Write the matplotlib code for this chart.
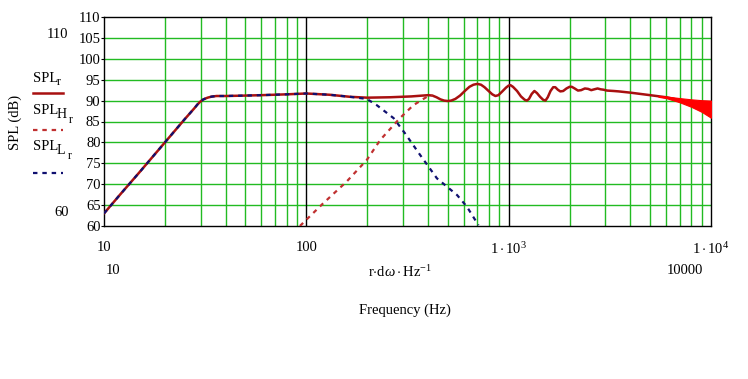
import matplotlib
matplotlib.use("Agg")
import matplotlib.pyplot as plt

plt.rcParams['font.family'] = ['Liberation Serif', 'DejaVu Serif']
plt.rcParams['mathtext.fontset'] = 'custom'
plt.rcParams['mathtext.rm'] = 'Liberation Serif'
plt.rcParams['mathtext.it'] = 'Liberation Serif:italic'

# ---- data ----
freq_total = [10, 12, 15, 20, 25, 28, 29, 30, 31, 32.5, 34, 36, 40, 50, 60, 80, 100, 130,
              165, 200, 260, 330, 400, 420, 440, 460, 480, 500, 520, 545, 575, 610, 640,
              670, 700, 730, 760, 800, 830, 860, 890, 930, 970, 1000, 1020, 1050, 1100,
              1150, 1200, 1230, 1260, 1300, 1340, 1380, 1430, 1480, 1520, 1560, 1610,
              1660, 1700, 1750, 1800, 1860, 1930, 2000, 2050, 2120, 2200, 2280, 2380,
              2470, 2560, 2650, 2750, 2850, 2950, 3060, 3300, 3500, 4000, 5000, 6000,
              7000, 8000, 9000, 10000]
spl_total = [63.0, 67.5, 72.9, 80.0, 85.5, 88.2, 89.1, 89.8, 90.3, 90.7, 90.95, 91.1,
             91.1, 91.2, 91.3, 91.5, 91.7, 91.4, 90.9, 90.7, 90.8, 91.0, 91.3, 91.2,
             90.8, 90.3, 90.0, 89.9, 90.0, 90.4, 91.2, 92.4, 93.3, 93.8, 94.0, 93.8,
             93.2, 92.2, 91.5, 91.1, 91.3, 92.2, 93.1, 93.6, 93.7, 93.3, 92.3, 91.0,
             90.2, 90.0, 90.4, 91.6, 92.3, 91.8, 90.9, 90.2, 90.0, 90.8, 92.3, 93.2,
             93.2, 92.6, 92.2, 92.3, 92.9, 93.3, 93.3, 92.9, 92.4, 92.5, 92.9, 92.8,
             92.5, 92.7, 92.9, 92.7, 92.6, 92.4, 92.3, 92.2, 91.9, 91.3, 90.8, 90.1,
             89.4, 88.7, 88.0]

# high-frequency ripple band at the end of the total response
freq_band = [5500, 6000, 7000, 8000, 9000, 10000]
band_hi = [91.1, 91.0, 90.6, 90.3, 90.1, 90.0]
band_lo = [90.9, 90.6, 89.6, 88.5, 87.3, 85.9]

freq_high = [93, 100, 121, 158, 199, 232, 290, 338, 394, 420]
spl_high = [60.0, 61.5, 65.4, 70.6, 75.8, 80.6, 85.8, 88.9, 90.9, 91.2]

freq_low = [10, 12, 15, 20, 25, 28, 29, 30, 31, 32.5, 34, 36, 40, 50, 60, 80, 100, 130,
            165, 199, 223, 270, 307, 365, 442, 556, 622, 709]
spl_low = [63.0, 67.5, 72.9, 80.0, 85.5, 88.2, 89.1, 89.8, 90.3, 90.7, 90.95, 91.1,
           91.1, 91.2, 91.3, 91.5, 91.7, 91.4, 90.9, 90.4, 88.9, 85.8, 82.2, 77.0,
           71.4, 67.4, 64.6, 60.2]

y_ticks = [60, 65, 70, 75, 80, 85, 90, 95, 100, 105, 110]
x_ticks = [10, 100, 1000, 10000]
x_tick_labels = ['10', '100', r'$1\cdot10^{3}$', r'$1\cdot10^{4}$']

W, H = 748, 379
fig = plt.figure(figsize=(W / 100, H / 100), dpi=100)
ax = fig.add_axes([104 / W, 1 - 226 / H, (711 - 104) / W, (226 - 17) / H])

ax.set_xscale('log')
ax.set_xlim(10, 10000)
ax.set_ylim(60, 110)

green = '#22bb22'
for yv in y_ticks[1:-1]:
    ax.axhline(yv, color=green, lw=1.0, zorder=1)
for dec in [10, 100, 1000]:
    for m in range(2, 10):
        ax.axvline(dec * m, color=green, lw=1.0, zorder=1)
for xv in [100, 1000]:
    ax.axvline(xv, color='black', lw=1.0, zorder=1)

ax.plot(freq_total, spl_total, color='#a81010', lw=1.8, zorder=3,
        solid_joinstyle='round', solid_capstyle='round')
ax.fill_between(freq_band, band_lo, band_hi, color='#ff0000', lw=0.8, edgecolor='#ff0000', zorder=4)
ax.plot(freq_high, spl_high, color='#c03030', lw=1.6, ls=(0, (2, 2.2)), zorder=4)
ax.plot(freq_low, spl_low, color='#101070', lw=1.6, ls=(0, (2, 2.2)), zorder=5)

ax.set_yticks(y_ticks)
ax.set_yticklabels([str(v) for v in y_ticks])
ax.set_xticks(x_ticks)
ax.set_xticklabels(x_tick_labels)
ax.xaxis.set_minor_locator(matplotlib.ticker.NullLocator())
ax.tick_params(axis='y', length=2, width=0.8, pad=0.5, labelsize=10.5)
ax.tick_params(axis='x', length=0, pad=11, labelsize=10.5)
for s in ax.spines.values():
    s.set_color('black')
    s.set_linewidth(1.0)

fs = 10.5
def ftxt(x, y, s, **kw):
    kw.setdefault('fontsize', fs)
    fig.text(x / W, 1 - y / H, s, **kw)

# left limit labels and axis label
ftxt(57, 35, '110', ha='center', va='center')
ftxt(62, 212, '60', ha='center', va='center')
ftxt(15, 122, 'SPL (dB)', ha='center', va='center', rotation=90)

# legend
ftxt(33, 78, 'SPL', ha='left', va='center')
ftxt(57, 82, 'r', ha='left', va='center', fontsize=8.5)
fig.add_artist(plt.Line2D([33 / W, 63 / W], [1 - 93 / H, 1 - 93 / H], color='#a81010', lw=1.8))

ftxt(33, 110, 'SPL', ha='left', va='center')
ftxt(57, 115, 'H', ha='left', va='center', fontsize=10)
ftxt(69, 120, 'r', ha='left', va='center', fontsize=8.5)
fig.add_artist(plt.Line2D([33 / W, 63 / W], [1 - 130 / H, 1 - 130 / H], color='#c03030', lw=1.6,
                          ls=(0, (2, 2.2))))

ftxt(33, 147, 'SPL', ha='left', va='center')
ftxt(57, 151, 'L', ha='left', va='center', fontsize=10)
ftxt(68, 156, 'r', ha='left', va='center', fontsize=8.5)
fig.add_artist(plt.Line2D([33 / W, 63 / W], [1 - 173 / H, 1 - 173 / H], color='#101070', lw=1.6,
                          ls=(0, (2, 2.2))))

# bottom labels
ftxt(113, 270, '10', ha='center', va='center')
ftxt(685, 270, '10000', ha='center', va='center')
ftxt(400, 272, r'r$\cdot$d$\omega\cdot$Hz$^{-1}$', ha='center', va='center')
ftxt(405, 310, 'Frequency (Hz)', ha='center', va='center')

fig.savefig('out.png', dpi=100, facecolor='white')
